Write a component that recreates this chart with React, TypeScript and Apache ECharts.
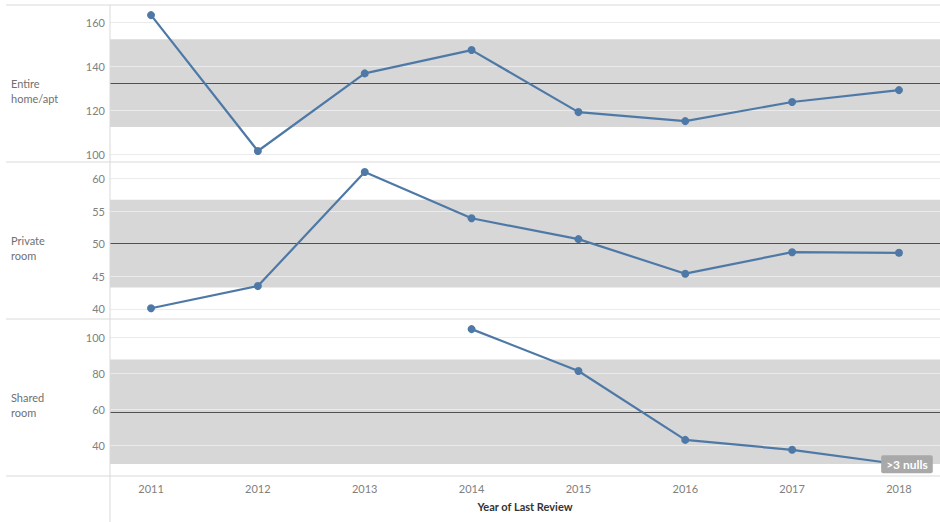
import React, { useEffect, useRef } from "react";
import * as echarts from "echarts";

const years = [2011, 2012, 2013, 2014, 2015, 2016, 2017, 2018];
const panelNames = ["Entire\nhome/apt", "Private\nroom", "Shared\nroom"];
const entireHome = [163.4, 101.6, 136.9, 147.5, 119.3, 115.2, 123.9, 129.3];
const privateRoom = [40.1, 43.5, 61.0, 53.9, 50.7, 45.4, 48.7, 48.6];
const sharedRoom: (number | null)[] = [null, null, null, 104.4, 81.2, 43.0, 37.5, 29.5];
const averages = [132.5, 50.0, 58.6];
const bandLow = [112.5, 43.3, 29.6];
const bandHigh = [152.4, 56.75, 87.6];
const yTicks = [
  [100, 120, 140, 160],
  [40, 45, 50, 55, 60],
  [40, 60, 80, 100],
];
const nullNote = ">3 nulls";
const xTitle = "Year of Last Review";

const seriesValues = [entireHome, privateRoom, sharedRoom];
const yMin = [96.6, 38.45, 23.0];
const yMax = [168.0, 62.53, 110.0];

const FONT = "Lato";
const BLUE = "#4e79a7";

export default function App() {
  const ref = useRef<HTMLDivElement>(null);
  useEffect(() => {
    if (!ref.current) return;
    const chart = echarts.init(ref.current, null, { renderer: "svg" });
    const tops = [5, 162, 319];
    const h = 157;
    const grids = tops.map((t) => ({ left: 110, right: 0, top: t, height: h, containLabel: false }));
    const xAxes = tops.map((_, i) => ({
      type: "value",
      gridIndex: i,
      min: 2010.616,
      max: 2018.384,
      show: i === 2,
      splitLine: { show: false },
      axisLine: { show: false },
      axisTick: { show: false, customValues: years },
      axisLabel: {
        customValues: years,
        color: "#808080",
        fontFamily: FONT,
        fontSize: 11,
        margin: 7,
        formatter: (v: number) => String(Math.round(v)),
      },
      name: i === 2 ? xTitle : "",
      nameLocation: "middle",
      nameGap: 25,
      nameTextStyle: { color: "#333", fontFamily: FONT, fontSize: 11, fontWeight: "bold" },
    }));
    const yAxes = tops.map((_, i) => ({
      type: "value",
      gridIndex: i,
      min: yMin[i],
      max: yMax[i],
      z: 2,
      axisLine: { show: false },
      axisTick: { show: false, customValues: yTicks[i] },
      axisLabel: {
        customValues: yTicks[i],
        color: "#808080",
        fontFamily: FONT,
        fontSize: 11,
        margin: 5,
      },
      splitLine: { show: true, lineStyle: { color: "#ebebeb", width: 1 } },
    }));
    const series: any[] = [];
    tops.forEach((_, i) => {
      series.push({
        type: "line",
        xAxisIndex: i,
        yAxisIndex: i,
        data: [],
        silent: true,
        z: 1,
        markArea: {
          silent: true,
          z: 1,
          itemStyle: { color: "#d7d7d7" },
          data: [[{ yAxis: bandLow[i] }, { yAxis: bandHigh[i] }]],
        },
        markLine: {
          silent: true,
          z: 3,
          symbol: "none",
          label: { show: false },
          lineStyle: { color: "#505050", width: 1, type: "solid" },
          data: [{ yAxis: averages[i] }],
        },
      });
      const vals = seriesValues[i];
      const pts = years
        .map((y, k) => [y, vals[k]])
        .filter((p) => p[1] !== null && p[1] !== undefined);
      const s: any = {
        type: "line",
        xAxisIndex: i,
        yAxisIndex: i,
        data: pts,
        z: 4,
        symbol: "circle",
        symbolSize: 8,
        itemStyle: { color: BLUE },
        lineStyle: { color: BLUE, width: 2.2 },
      };
      if (i === 2) {
        const last = pts[pts.length - 1];
        s.markPoint = {
          z: 20,
          symbol: "rect",
          symbolSize: 0,
          data: [
            {
              coord: last,
              label: {
                show: true,
                formatter: nullNote,
                position: "inside",
                offset: [8, 0],
                color: "#ffffff",
                fontFamily: FONT,
                fontSize: 12,
                fontWeight: "bold",
                backgroundColor: "#a9a9a9",
                borderRadius: 2,
                padding: [3, 5, 3, 5],
              },
            },
          ],
        };
      }
      series.push(s);
    });

    const sepColor = "#d9d9d9";
    const graphic: any[] = [];
    [5, 162, 319, 476].forEach((y) => {
      graphic.push({
        type: "line",
        shape: { x1: 6, y1: y, x2: 940, y2: y },
        style: { stroke: sepColor, lineWidth: 1 },
        z: 10,
      });
    });
    graphic.push({
      type: "line",
      shape: { x1: 110, y1: 5, x2: 110, y2: 522 },
      style: { stroke: sepColor, lineWidth: 1 },
      z: 10,
    });
    tops.forEach((t, i) => {
      graphic.push({
        type: "text",
        x: 11,
        y: t + h / 2 + 7,
        style: {
          text: panelNames[i],
          fill: "#707070",
          font: `11px ${FONT}`,
          lineHeight: 15,
          verticalAlign: "middle",
          align: "left",
        },
        z: 10,
      });
    });

    chart.setOption({
      animation: false,
      backgroundColor: "#ffffff",
      grid: grids,
      xAxis: xAxes,
      yAxis: yAxes,
      series,
      graphic,
    });
    return () => chart.dispose();
  }, []);
  return (
    <div
      ref={ref}
      style={{ position: "fixed", left: 0, top: 0, width: 940, height: 522 }}
    />
  );
}
